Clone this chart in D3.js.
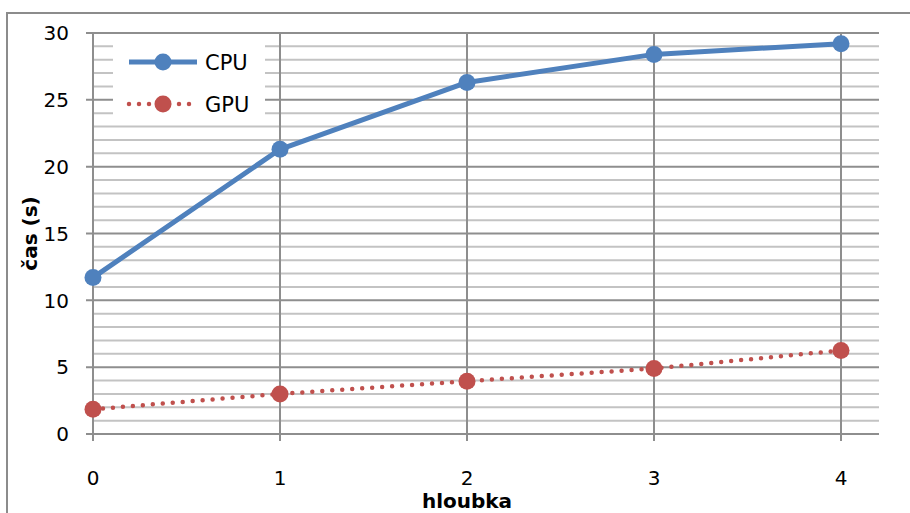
<!DOCTYPE html>
<html>
<head>
<meta charset="utf-8">
<script src="https://cdn.jsdelivr.net/npm/d3@7/dist/d3.min.js"></script>
<style>
  html, body { margin: 0; padding: 0; background: #fff; }
  svg text { font-family: "DejaVu Sans", sans-serif; fill: #000; }
</style>
</head>
<body>
<svg id="chart" width="910" height="513"></svg>
<script>
// Run time per search depth
const depths = [0, 1, 2, 3, 4];
const cpuTimes = [11.7, 21.3, 26.3, 28.4, 29.2];
const gpuTimes = [1.85, 3.0, 3.95, 4.9, 6.25];
const yTicks = [0, 5, 10, 15, 20, 25, 30];
const seriesNames = ["CPU", "GPU"];

const svg = d3.select("#chart");
const margin = { left: 93, right: 31, top: 33, bottom: 79 };
const W = 910, H = 513;

const x = d3.scaleLinear().domain([0, 4]).range([margin.left, 841]);
const xFrame = [margin.left, W - margin.right];
const y = d3.scaleLinear().domain([0, 30]).range([H - margin.bottom, margin.top]);

// outer chart frame
svg.append("rect")
  .attr("x", 7).attr("y", 13)
  .attr("width", 920).attr("height", 520)
  .attr("fill", "none").attr("stroke", "#8c8c8c").attr("stroke-width", 2);

// horizontal gridlines: minor every 1, major every 5
const minor = d3.range(1, 31).filter(v => v % 5 !== 0);
svg.append("g").selectAll("line").data(minor).join("line")
  .attr("x1", xFrame[0]).attr("x2", xFrame[1])
  .attr("y1", d => y(d)).attr("y2", d => y(d))
  .attr("stroke", "#c3c3c3").attr("stroke-width", 2);
svg.append("g").selectAll("line").data(yTicks).join("line")
  .attr("x1", 86).attr("x2", xFrame[1])
  .attr("y1", d => y(d)).attr("y2", d => y(d))
  .attr("stroke", "#8e8e8e").attr("stroke-width", 2);

// vertical gridlines at each depth, extending into tick marks
svg.append("g").selectAll("line").data(depths).join("line")
  .attr("x1", d => x(d)).attr("x2", d => x(d))
  .attr("y1", y(30)).attr("y2", y(0) + 7)
  .attr("stroke", "#8e8e8e").attr("stroke-width", 2);

// legend box (covers the grid)
const legend = svg.append("g");
legend.append("rect")
  .attr("x", 113).attr("y", 40).attr("width", 152).attr("height", 78)
  .attr("fill", "#fff");

// axis tick labels
svg.append("g").selectAll("text").data(yTicks).join("text")
  .attr("x", 69).attr("y", d => y(d)).attr("dy", "0.36em")
  .attr("text-anchor", "end").attr("font-size", 20)
  .text(d => d);
svg.append("g").selectAll("text").data(depths).join("text")
  .attr("x", d => x(d)).attr("y", 485)
  .attr("text-anchor", "middle").attr("font-size", 20)
  .text(d => d);

// axis titles
svg.append("text")
  .attr("x", x(2)).attr("y", 508)
  .attr("text-anchor", "middle").attr("font-size", 20).attr("font-weight", "bold")
  .text("hloubka");
svg.append("text")
  .attr("transform", `translate(37, ${y(15)}) rotate(-90)`)
  .attr("text-anchor", "middle").attr("font-size", 20).attr("font-weight", "bold")
  .text("čas (s)");

const line = d3.line().x((d, i) => x(depths[i])).y(d => y(d));
const colors = { CPU: "#4f81bd", GPU: "#c0504d" };

// CPU series: solid line
svg.append("path").datum(cpuTimes)
  .attr("d", line).attr("fill", "none")
  .attr("stroke", colors.CPU).attr("stroke-width", 5).attr("stroke-linejoin", "round");
svg.append("g").selectAll("circle").data(cpuTimes).join("circle")
  .attr("cx", (d, i) => x(depths[i])).attr("cy", d => y(d)).attr("r", 8.5)
  .attr("fill", colors.CPU);

// GPU series: round-dot line
svg.append("path").datum(gpuTimes)
  .attr("d", line).attr("fill", "none")
  .attr("stroke", colors.GPU).attr("stroke-width", 4.5)
  .attr("stroke-linecap", "round").attr("stroke-dasharray", "0 10");
svg.append("g").selectAll("circle").data(gpuTimes).join("circle")
  .attr("cx", (d, i) => x(depths[i])).attr("cy", d => y(d)).attr("r", 8.5)
  .attr("fill", colors.GPU);

// legend entries
const legendRows = [
  { name: seriesNames[0], cy: 62, dash: null, width: 5 },
  { name: seriesNames[1], cy: 104, dash: "0 10", width: 4.5 }
];
legendRows.forEach(r => {
  legend.append("line")
    .attr("x1", 129).attr("x2", 197).attr("y1", r.cy).attr("y2", r.cy)
    .attr("stroke", colors[r.name]).attr("stroke-width", r.width)
    .attr("stroke-linecap", r.dash ? "round" : "butt")
    .attr("stroke-dasharray", r.dash);
  legend.append("circle")
    .attr("cx", 163).attr("cy", r.cy).attr("r", 8.5).attr("fill", colors[r.name]);
  legend.append("text")
    .attr("x", 205).attr("y", r.cy).attr("dy", "0.36em")
    .attr("font-size", 21).text(r.name);
});
</script>
</body>
</html>
